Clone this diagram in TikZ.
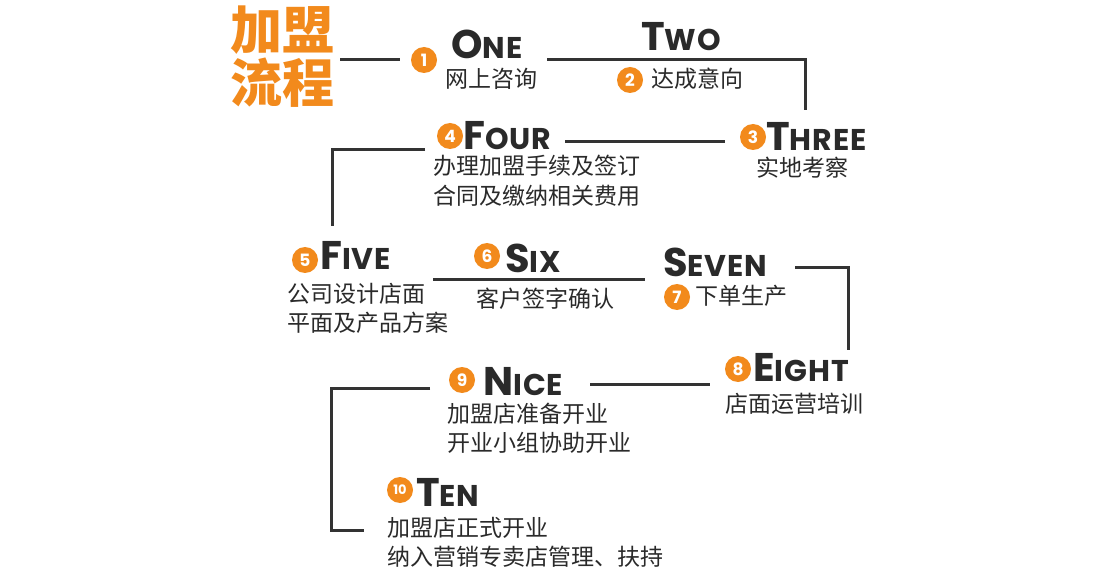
\documentclass[tikz,border=0pt]{standalone}
\usepackage{fontspec}
\newfontfamily\cjk{Noto Sans CJK SC}
\newfontfamily\hd{Poppins}
\definecolor{org}{HTML}{F28A1C}
\definecolor{ink}{HTML}{2A2A2A}
\definecolor{ln}{HTML}{333333}
\newcommand\hdw[2]{{\hd\bfseries\fontsize{40}{40}\selectfont #1}{\hd\bfseries\fontsize{30}{30}\selectfont\addfontfeature{LetterSpace=3} #2}}
\begin{document}
\begin{tikzpicture}[x=1pt,y=-1pt,
  hdnode/.style={anchor=west,inner sep=0pt,text=ink},
  cn/.style={anchor=north west,inner sep=0pt,text=ink,font=\cjk\fontsize{23}{23}\selectfont},
  numc/.style={circle,fill=org,text=white,inner sep=0pt,minimum size=26pt,font=\hd\bfseries\fontsize{17}{17}\selectfont},
  conn/.style={draw=ln,line width=3pt},
  ttl/.style={anchor=north west,inner sep=0pt,text=org,font=\cjk\bfseries\fontsize{52}{52}\selectfont}]
\useasboundingbox (0,0) rectangle (1100,585);
\fill[white] (0,0) rectangle (1100,585);
% title
\node[ttl] (ttlA) at (230,6) {加盟};
\node[ttl] (ttlB) at (230,58) {流程};
% circles
\node[numc] (c1) at (424,60) {1};
\node[numc] (c2) at (630,80) {2};
\node[numc] (c3) at (753,137) {3};
\node[numc] (c4) at (450,136) {4};
\node[numc] (c5) at (305,260) {5};
\node[numc] (c6) at (487,256) {6};
\node[numc] (c7) at (677,297) {7};
\node[numc] (c8) at (738,369) {8};
\node[numc] (c9) at (462,380) {9};
\node[numc,font=\hd\bfseries\fontsize{13}{13}\selectfont] (c10) at (400,490) {10};
% headings
\node[hdnode] (h1) at (451,44) {\hdw{O}{NE}};
\node[hdnode] (h2) at (641,37) {\hdw{T}{WO}};
\node[hdnode] (h3) at (766,136) {\hdw{T}{HREE}};
\node[hdnode] (h4) at (463,136) {\hdw{F}{OUR}};
\node[hdnode] (h5) at (320,255) {\hdw{F}{IVE}};
\node[hdnode] (h6) at (505,258) {\hdw{S}{IX}};
\node[hdnode] (h7) at (663,262) {\hdw{S}{EVEN}};
\node[hdnode] (h8) at (753,368) {\hdw{E}{IGHT}};
\node[hdnode] (h9) at (483,382) {\hdw{N}{ICE}};
\node[hdnode] (h10) at (416,492) {\hdw{T}{EN}};
% chinese texts
\node[cn] (t1) at (445,68) {网上咨询};
\node[cn] (t2) at (651,68) {达成意向};
\node[cn] (t3) at (756,157) {实地考察};
\node[cn] (t4a) at (433,155) {办理加盟手续及签订};
\node[cn] (t4b) at (433,185) {合同及缴纳相关费用};
\node[cn] (t5a) at (287,283) {公司设计店面};
\node[cn] (t5b) at (287,312) {平面及产品方案};
\node[cn] (t6) at (476,288) {客户签字确认};
\node[cn] (t7) at (695,285) {下单生产};
\node[cn] (t8) at (725,393) {店面运营培训};
\node[cn] (t9a) at (447,403) {加盟店准备开业};
\node[cn] (t9b) at (447,432) {开业小组协助开业};
\node[cn] (t10a) at (387,517) {加盟店正式开业};
\node[cn] (t10b) at (387,546) {纳入营销专卖店管理、扶持};
% connector coordinates
\coordinate (a1) at (340,60); \coordinate (a2) at (400,60);
\coordinate (b1) at (547,60); \coordinate (b2) at (805,60); \coordinate (b3) at (805,110);
\coordinate (d1) at (565,142); \coordinate (d2) at (725,142);
\coordinate (e1) at (425,150); \coordinate (e2) at (332,150); \coordinate (e3) at (332,226);
\coordinate (f1) at (433,280); \coordinate (f2) at (645,280);
\coordinate (g1) at (795,268); \coordinate (g2) at (848,268); \coordinate (g3) at (848,350);
\coordinate (k1) at (590,384); \coordinate (k2) at (710,384);
\coordinate (m1) at (430,388); \coordinate (m2) at (331,388); \coordinate (m3) at (331,530); \coordinate (m4) at (364,530);
\draw[conn] (a1) -- (a2);
\draw[conn] (b1) -- (b2) -- (b3);
\draw[conn] (d1) -- (d2);
\draw[conn] (e1) -- (e2) -- (e3);
\draw[conn] (f1) -- (f2);
\draw[conn] (g1) -- (g2) -- (g3);
\draw[conn] (k1) -- (k2);
\draw[conn] (m1) -- (m2) -- (m3) -- (m4);
\end{tikzpicture}
\end{document}
